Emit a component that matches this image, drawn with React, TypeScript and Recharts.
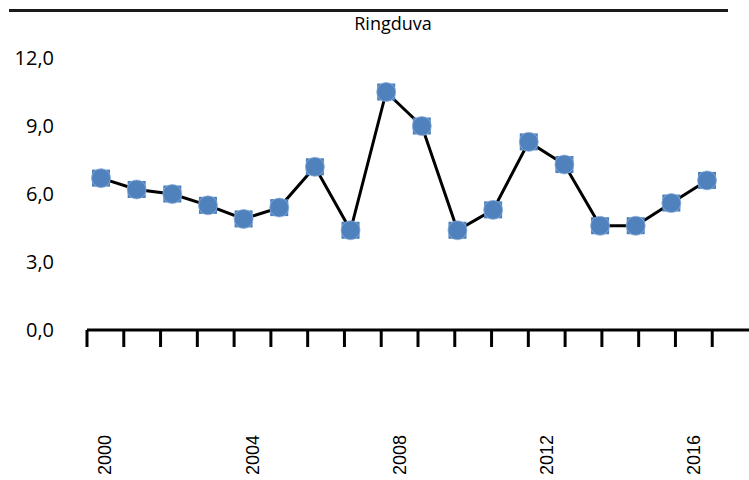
import { LineChart, Line, XAxis, YAxis } from "recharts";

const YEARS = [
  2000, 2001, 2002, 2003, 2004, 2005, 2006, 2007, 2008, 2009, 2010, 2011,
  2012, 2013, 2014, 2015, 2016, 2017,
];
const VALUES = [
  6.7, 6.2, 6.0, 5.5, 4.9, 5.4, 7.2, 4.4, 10.5, 9.0, 4.4, 5.3, 8.3, 7.3, 4.6,
  4.6, 5.6, 6.6,
];
const Y_TICKS = [0, 3, 6, 9, 12];
const LABEL_YEARS = [2000, 2004, 2008, 2012, 2016];

const data = YEARS.map((year, i) => ({ year, value: VALUES[i] }));

const MARKER = "#4a7ebb";

// square marker with a round cap, like the Excel one
function Marker(props: any) {
  const { cx, cy } = props;
  if (cx == null || cy == null) return null;
  return (
    <g>
      <rect x={cx - 9} y={cy - 8.5} width={18} height={17} fill={MARKER} />
      <circle cx={cx} cy={cy} r={9.5} fill="#4f81bd" stroke="#8fb0db" strokeWidth={0.8} />
    </g>
  );
}

function YearLabel(props: any) {
  const { x, y, payload } = props;
  return (
    <text
      x={x}
      y={y + 85}
      transform={`rotate(-90, ${x}, ${y + 85})`}
      textAnchor="end"
      dominantBaseline="central"
      fontFamily="'Liberation Sans', Arial, sans-serif"
      fontSize={18}
      fill="#000"
    >
      {Math.floor(payload.value)}
    </text>
  );
}

function App() {
  return (
    <div style={{ position: "relative", width: 749, height: 480, background: "#fff" }}>
      <style>{`body { margin: 0; }`}</style>
      <div
        style={{
          position: "absolute",
          left: 9,
          top: 9,
          width: 719,
          borderTop: "3px solid #1a1a1a",
        }}
      />
      <div
        style={{
          position: "absolute",
          left: 0,
          width: 786,
          top: 11,
          textAlign: "center",
          fontFamily: "'Open Sans', sans-serif",
          fontSize: 18,
          lineHeight: "24px",
          color: "#000",
        }}
      >
        Ringduva
      </div>
      <LineChart
        width={749}
        height={480}
        data={data}
        margin={{ top: 58, right: 0, left: 0, bottom: 0 }}
      >
        <XAxis
          xAxisId="a_marks"
          dataKey="year"
          type="number"
          domain={[2000, 2018]}
          allowDataOverflow
          ticks={YEARS}
          interval={0}
          height={20}
          axisLine={{ stroke: "#000", strokeWidth: 3 }}
          tickLine={{ stroke: "#000", strokeWidth: 3 }}
          tickSize={17}
          tick={() => <g />}
        />
        <XAxis
          xAxisId="b_labels"
          dataKey="year"
          type="number"
          domain={[2000, 2018]}
          allowDataOverflow
          ticks={LABEL_YEARS.map((y) => y + 0.5)}
          height={130}
          axisLine={false}
          tickLine={false}
          tickSize={0}
          tickMargin={0}
          interval={0}
          tick={<YearLabel />}
        />
        <XAxis
          xAxisId="pts"
          dataKey="year"
          type="number"
          domain={[1999.607, 2018.178]}
          allowDataOverflow
          hide
        />
        <YAxis
          width={87}
          domain={[0, 12]}
          ticks={Y_TICKS}
          allowDataOverflow
          axisLine={false}
          tickLine={false}
          tickMargin={27}
          tick={{ fill: "#000", fontSize: 20, fontFamily: "'Open Sans', sans-serif" }}
          tickFormatter={(v: number) => v.toFixed(1).replace(".", ",")}
        />
        <Line
          xAxisId="pts"
          dataKey="value"
          stroke="#000"
          strokeWidth={3}
          dot={<Marker />}
          activeDot={false}
          isAnimationActive={false}
        />
      </LineChart>
    </div>
  );
}

export default App;
